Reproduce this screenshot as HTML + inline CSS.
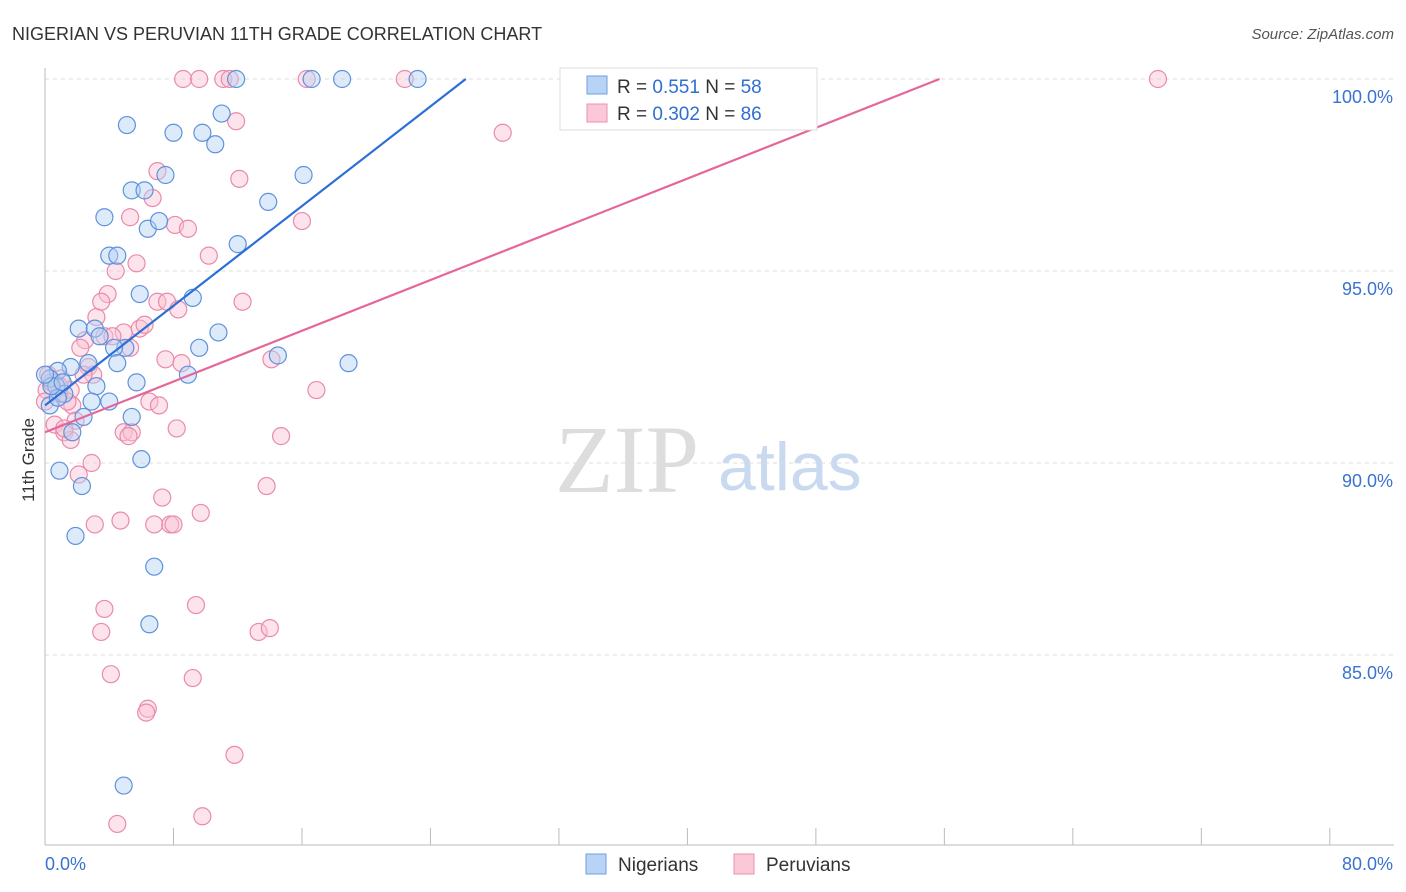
<!DOCTYPE html>
<html><head><meta charset="utf-8"><style>
body{margin:0;background:#fff;font-family:"Liberation Sans",sans-serif}
svg{display:block}
</style></head><body>
<svg id="c" width="1406" height="892" xmlns="http://www.w3.org/2000/svg">
<text x="12" y="40" font-size="18" fill="#333">NIGERIAN VS PERUVIAN 11TH GRADE CORRELATION CHART</text>
<text x="1394" y="39" font-size="15" fill="#555" font-style="italic" text-anchor="end">Source: ZipAtlas.com</text>
<text x="34" y="460" font-size="17" fill="#333" transform="rotate(-90 34 460)" text-anchor="middle">11th Grade</text>
<text x="555" y="492" font-size="96" fill="#ddd" font-family="Liberation Serif">ZIP</text>
<text x="718" y="490" font-size="68" fill="#c9daf0">atlas</text>
<g id="grid"></g><g id="axes"></g><g id="pts"></g><g id="lines"></g>
<g>
<rect x="560" y="68" width="257" height="62" fill="#fff" stroke="#ddd"/>
<rect x="587" y="76" width="20" height="18" fill="#b8d3f5" stroke="#6fa0e0"/>
<text x="617" y="93" font-size="19" fill="#333">R = <tspan fill="#2f6fd0">0.551</tspan>   N = <tspan fill="#2f6fd0">58</tspan></text>
<rect x="587" y="104" width="20" height="18" fill="#fcc8d8" stroke="#e890b0"/>
<text x="617" y="120" font-size="19" fill="#333">R = <tspan fill="#2f6fd0">0.302</tspan>   N = <tspan fill="#2f6fd0">86</tspan></text>
</g>
<g>
<rect x="586" y="854" width="20" height="20" fill="#b8d3f5" stroke="#6fa0e0"/>
<text x="618" y="871" font-size="19" fill="#333">Nigerians</text>
<rect x="734" y="854" width="20" height="20" fill="#fcc8d8" stroke="#e890b0"/>
<text x="766" y="871" font-size="19" fill="#333">Peruvians</text>
</g>
</svg>
<script>
const xTicks=[0,8,16,24,32,40,48,56,64,72,80];
const yTicks=[85,90,95,100];
const yTickLabels=["85.0%","90.0%","95.0%","100.0%"];
const xTickLabels=["0.0%","80.0%"];
const nigX=[5.1,8,9.8,11,10.6,11.9,18.5,23.2,16.6,5.4,6.2,7.5,3.7,6.4,7.1,13.9,16.1,12,4,4.5,5.9,9.2,2.1,3.1,3.4,5,4.3,10.8,9.6,14.5,18.9,2.7,4.5,8.9,1.6,0.8,0.3,0.7,3.2,1.2,5.7,2.9,4,0.3,2.4,5.4,1.7,6,0.9,2.3,1.9,6.8,6.5,4.9,0.8,0.4,0,1.1];
const nigY=[98.8,98.6,98.6,99.1,98.3,100,100,100,100,97.1,97.1,97.5,96.4,96.1,96.3,96.8,97.5,95.7,95.4,95.4,94.4,94.3,93.5,93.5,93.3,93,93,93.4,93,92.8,92.6,92.6,92.6,92.3,92.5,92.4,92.2,92,92,91.8,92.1,91.6,91.6,91.5,91.2,91.2,90.8,90.1,89.8,89.4,88.1,87.3,85.8,81.6,91.7,92,92.3,92.1];
const perX=[8.6,9.6,11.1,11.5,16.3,22.4,69.3,11.9,28.5,7,12.1,6.7,5.3,8.1,8.9,16,10.2,5.7,4.4,3.9,7,7.6,8.3,12.3,3.2,4.9,5.9,2.5,3.7,4.2,5.3,2.2,7.5,8.5,14.1,2.7,3,1,0.6,1.6,0.1,0.9,1.7,6.5,7.1,16.9,0.6,1.9,1.2,1.6,8.2,4.9,5.4,14.7,2.9,2.1,13.8,7.3,3.1,4.7,6.8,7.8,8,9.7,3.7,3.5,9.4,13.3,14,4.1,9.2,6.4,6.3,11.8,4.5,9.8,0.2,0.4,0.9,0,1.4,2.4,6.2,3.5,5.2,1.2];
const perY=[100,100,100,100,100,100,100,98.9,98.6,97.6,97.4,96.9,96.4,96.2,96.1,96.3,95.4,95.2,95,94.4,94.2,94.2,94,94.2,93.8,93.4,93.5,93.2,93.3,93.3,93,93,92.7,92.6,92.7,92.5,92.3,92.2,92.1,91.9,91.9,91.8,91.5,91.6,91.5,91.9,91,91.1,90.8,90.6,90.9,90.8,90.8,90.7,90,89.7,89.4,89.1,88.4,88.5,88.4,88.4,88.4,88.7,86.2,85.6,86.3,85.6,85.7,84.5,84.4,83.6,83.5,82.4,80.6,80.8,92.3,92.1,92,91.6,91.6,92.3,93.6,94.2,90.7,90.9];
const blueLine=[[0,91.5],[26.2,100]];
const pinkLine=[[0,90.8],[55.7,100]];
const X=v=>45+v*16.06, Y=v=>79+(100-v)*38.4;
const ns="http://www.w3.org/2000/svg";
function mk(t,a,p){const e=document.createElementNS(ns,t);for(const k in a)e.setAttribute(k,a[k]);document.getElementById(p).appendChild(e);return e;}
yTicks.forEach((t,i)=>{
 const g=mk('line',{x1:45,x2:1394,y1:Y(t),y2:Y(t),stroke:'#ddd','stroke-dasharray':'4,4'},'grid');
 
 
 const l=mk('text',{x:1393,y:Y(t)+24,'font-size':18,fill:'#3a72d0','text-anchor':'end'},'axes');l.textContent=yTickLabels[i];
 
 
});
const ax=mk('line',{x1:45,x2:1394,y1:845,y2:845,stroke:'#bbb'},'axes');


const ay=mk('line',{x1:45,x2:45,y1:68,y2:845,stroke:'#bbb'},'axes');


xTicks.forEach(t=>{const e=mk('line',{x1:X(t),x2:X(t),y1:828,y2:845,stroke:'#bbb'},'axes');
 
 });
[[xTickLabels[0],45,'start'],[xTickLabels[1],1393,'end']].forEach(a=>{const e=mk('text',{x:a[1],y:870,'font-size':18,fill:'#3a72d0','text-anchor':a[2]},'axes');e.textContent=a[0];
 
 });
function pts(xs,ys,f,s,n){xs.forEach((x,i)=>{const c=mk('circle',{cx:X(x),cy:Y(ys[i]),r:8.5,fill:f,'fill-opacity':0.45,stroke:s,'stroke-width':1.2},'pts');
 
 });}
pts(perX,perY,'#fbc0d3','#e98bab','peruvian-point');
pts(nigX,nigY,'#b3d0f5','#5e92dc','nigerian-point');
function ln(L,c,n){const e=mk('line',{x1:X(L[0][0]),y1:Y(L[0][1]),x2:X(L[1][0]),y2:Y(L[1][1]),stroke:c,'stroke-width':2.2},'lines');
 
 }
ln(blueLine,'#2c6fd6','nigerian-trend-line');
ln(pinkLine,'#e5669a','peruvian-trend-line');
</script>
</body></html>
